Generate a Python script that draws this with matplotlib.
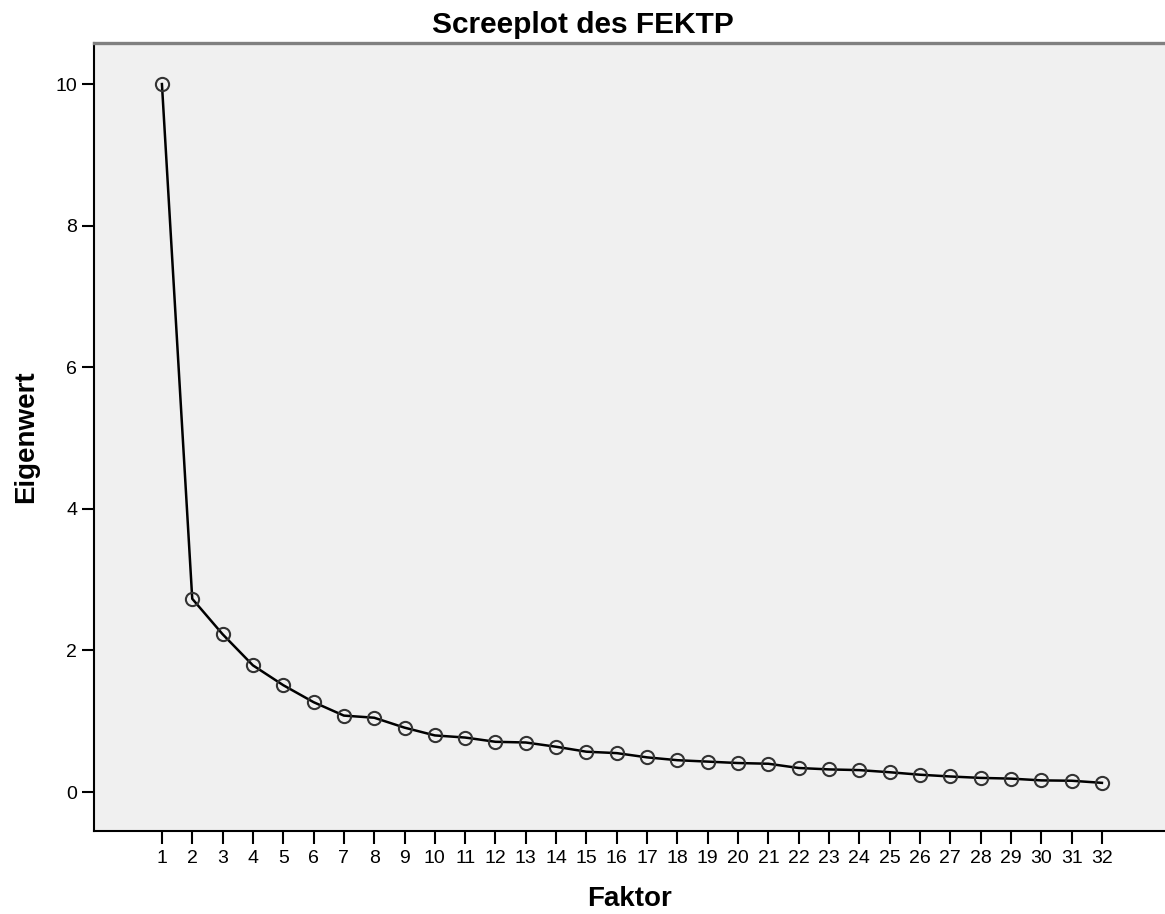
"""Screeplot des FEKTP"""
import numpy as np
from matplotlib import pyplot as plt

plt.rcParams['font.family'] = ['Liberation Sans', 'DejaVu Sans']

faktor = list(range(1, 33))
eigenwert = [10.0, 2.73, 2.23, 1.79, 1.51, 1.27, 1.08, 1.05, 0.91, 0.80,
             0.77, 0.71, 0.70, 0.64, 0.57, 0.55, 0.49, 0.45, 0.43, 0.41,
             0.40, 0.34, 0.32, 0.31, 0.28, 0.245, 0.22, 0.20, 0.19, 0.165,
             0.16, 0.13]
y_ticks = [0, 2, 4, 6, 8, 10]

fig = plt.figure(figsize=(11.65, 9.14), dpi=100)
ax = fig.add_axes([94 / 1165, 83 / 914, 1 - 94 / 1165, (831 - 43) / 914])
ax.set_facecolor('#f0f0f0')

ax.plot(faktor, eigenwert, color='black', linewidth=1.8, zorder=2)
ax.plot(faktor, eigenwert, linestyle='none', marker='o', markersize=9.5,
        markerfacecolor='none', markeredgecolor='#333333', markeredgewidth=1.5, zorder=3)

ax.set_xlim(-1.24, 34.08)
ax.set_ylim(-0.55, 10.58)
ax.set_xticks(faktor)
ax.set_yticks(y_ticks)
ax.tick_params(axis='both', direction='out', length=9, width=1.5, color='black',
               labelsize=14, labelcolor='black')
ax.tick_params(axis='y', pad=3)
ax.tick_params(axis='x', pad=5)

for side in ('left', 'bottom'):
    ax.spines[side].set_color('black')
    ax.spines[side].set_linewidth(1.5)
ax.spines['top'].set_color('#808080')
ax.spines['top'].set_linewidth(2.4)
ax.spines['right'].set_visible(False)

ax.set_xlabel('Faktor', fontsize=20, fontweight='bold', labelpad=13)
ax.set_ylabel('Eigenwert', fontsize=20, fontweight='bold', labelpad=12)
fig.text(0.5, 1 - 33 / 914, 'Screeplot des FEKTP', fontsize=21.5, fontweight='bold',
         ha='center', va='baseline')

plt.savefig('out.png', dpi=100)
plt.close(fig)
